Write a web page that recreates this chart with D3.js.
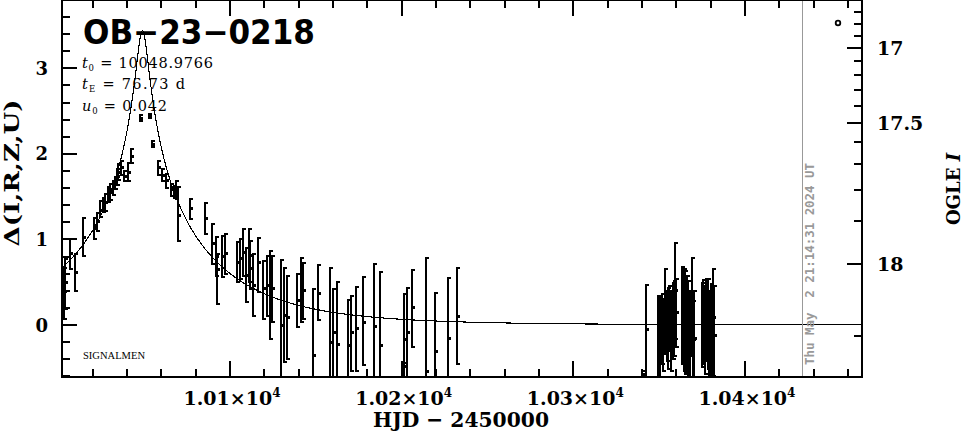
<!DOCTYPE html>
<html><head><meta charset="utf-8">
<script src="https://cdn.jsdelivr.net/npm/d3@7"></script>
<style>body{margin:0;background:#fff}svg{display:block}</style>
</head><body><svg id="c" width="965" height="434"></svg>
<script>
// ---- data ----
const hjd = [
 10003.0,10004.1,10006.8,10009.7,10014.5,10020.7,10022.5,10024.2,10026.0,10027.4,
 10028.9,10030.1,10031.8,10033.0,10033.9,10035.0,10036.2,10038.2,10040.6,10042.3,
 10047.5,10048.5,10052.5,10054.7,10058.2,10060.5,10062.7,10065.6,10067.1,10068.8,
 10069.9,10076.7,10085.4,10089.3,10091.6,10092.6,10095.3,10097.1,10104.1,10105.8,
 10107.8,10109.3,10110.8,10111.9,10113.2,10116.5,10119.4,10121.4,10123.3,10124.7,
 10129.5,10131.4,10133.4,10139.2,10141.2,10142.5,10148.5,10151.4,10158.2,10160.2,
 10162.1,10168.5,10170.5,10173.2,10177.6,10184.0,10187.4,10200.5,10201.5,10202.9,
 10206.2,10214.2,10219.4,10227.2,10232.4,
 10339.8,10342.3,10349.5,10350.8,10351.6,10352.5,10353.4,10354.3,10355.1,10356.0,
 10356.9,10357.8,10358.6,10359.2,10360.1,10363.6,10364.5,10365.3,10366.2,10367.1,
 10368.0,10369.0,10369.7,10370.6,10375.0,10375.8,10376.7,10377.6,10378.5,10379.3,
 10380.2,10381.1,10381.9];
const delta = [
 0.386,0.491,0.830,0.619,1.028,1.122,1.204,1.344,1.402,1.426,
 1.519,1.554,1.601,1.659,1.730,1.788,1.835,1.741,1.788,1.975,
 2.419,3.407,2.442,2.115,1.835,1.753,1.683,1.578,1.554,1.578,
 1.274,1.356,1.250,0.958,0.806,0.643,0.795,0.841,0.736,0.783,
 0.853,0.584,0.818,0.666,0.467,0.725,0.432,0.456,0.351,0.421,
 0.000,0.117,0.093,0.292,0.421,0.409,-0.362,0.374,-0.199,-0.093,
 -0.222,-0.234,-0.093,-0.035,0.035,-0.023,-0.245,-0.479,-0.175,-0.093,
 0.199,-0.549,-0.304,-0.152,0.105,
 -0.573,-0.058,-0.175,-0.117,0.000,-0.082,0.175,0.035,-0.035,0.082,
 -0.058,0.058,0.082,0.409,0.152,0.117,0.082,0.035,0.000,-0.058,
 -0.117,0.234,-0.175,-0.152,0.000,0.035,-0.058,0.058,0.035,-0.082,
 -0.058,0.082,-0.117];
const deltaHi = [
 0.678,0.783,1.017,0.841,1.262,1.262,1.321,1.461,1.496,1.543,
 1.624,1.659,1.695,1.741,1.835,1.893,1.928,1.811,1.905,2.068,
 2.466,3.424,2.477,2.162,1.928,1.835,1.776,1.659,1.636,1.695,
 1.624,1.484,1.437,1.192,1.040,0.841,1.052,1.075,0.982,1.017,
 1.134,0.912,1.134,0.993,0.841,1.028,0.760,0.818,0.876,0.818,
 0.771,0.678,0.584,0.608,0.795,0.736,0.432,0.713,0.678,0.432,
 0.514,0.304,0.351,0.456,0.573,0.725,0.631,-0.432,0.374,0.444,
 0.654,0.795,0.386,0.561,0.678,
 -0.526,0.479,0.351,0.339,0.374,0.316,0.666,0.409,0.444,0.467,
 0.409,0.503,0.526,0.970,0.549,0.690,0.666,0.643,0.584,0.526,
 0.409,0.795,0.292,0.409,0.503,0.538,0.467,0.549,0.549,0.409,
 0.491,0.666,0.467];
const deltaLo = [
 0.058,0.175,0.643,0.386,0.795,0.993,1.087,1.250,1.309,1.321,
 1.426,1.449,1.508,1.578,1.624,1.683,1.741,1.671,1.671,1.881,
 2.372,3.389,2.407,2.068,1.741,1.671,1.589,1.496,1.472,1.461,
 0.970,1.227,1.052,0.701,0.561,0.234,0.549,0.584,0.491,0.526,
 0.561,0.257,0.491,0.409,0.093,0.374,0.058,0.093,-0.175,0.023,
 -0.701,-0.444,-0.409,-0.035,0.023,0.058,-0.818,0.047,-0.818,-0.760,
 -0.876,-0.643,-0.549,-0.549,-0.479,-0.760,-0.876,-0.818,-0.760,-0.643,
 -0.269,-0.993,-0.876,-0.818,-0.467,
 -0.701,-0.701,-0.760,-0.619,-0.467,-0.549,-0.351,-0.432,-0.526,-0.316,
 -0.549,-0.409,-0.374,-0.175,-0.269,-0.467,-0.549,-0.584,-0.584,-0.608,
 -0.643,-0.374,-0.643,-0.701,-0.503,-0.467,-0.584,-0.432,-0.526,-0.608,
 -0.619,-0.608,-0.701];

// fit parameters shown on the chart
const t0 = 10048.9766, tE = 76.73, u0 = 0.042;
// axis ticks / labels
const xDomain = [10002.1, 10468.2];
const yDomain = [-0.6075, 3.798];
const xMajor = [10100, 10200, 10300, 10400];
const xLabels = ["1.01", "1.02", "1.03", "1.04"];
const yMajor = [0, 1, 2, 3];
const magMajor = [17, 17.5, 18];
const magLabels = ["17", "17.5", "18"];
const magMinor = [16.7,16.8,16.9,17.1,17.2,17.3,17.4,17.6,17.7,17.8,17.9,18.1];
const baseMag = 18.089, sourceFrac = 0.0925;
const nowHJD = 10433.38;
const stamp = "Thu May  2 21:14:31 2024 UT";

// ---- drawing ----
const L = 62, R = 862, T = 0, B = 377;
const svg = d3.select("#c");
const x = d3.scaleLinear().domain(xDomain).range([L, R]);
const y = d3.scaleLinear().domain(yDomain).range([B, T]);
const magToDelta = m => 2.5 * Math.log10(1 + (Math.pow(10, 0.4 * (baseMag - m)) - 1) / sourceFrac);

svg.append("defs").append("clipPath").attr("id", "clip")
  .append("rect").attr("x", L).attr("y", T).attr("width", R - L).attr("height", B - T);

const plot = svg.append("g").attr("clip-path", "url(#clip)");

// now line
svg.append("line").attr("x1", Math.round(x(nowHJD)) + 0.5).attr("x2", Math.round(x(nowHJD)) + 0.5)
  .attr("y1", T).attr("y2", B).attr("stroke", "#999").attr("stroke-width", 1)
  .attr("shape-rendering", "crispEdges");

// model curve
const mag = t => { const u = Math.hypot(u0, (t - t0) / tE); return (u*u + 2) / (u * Math.sqrt(u*u + 4)); };
const ts = d3.range(xDomain[0], xDomain[1], 0.25).concat([t0]).sort((a, b) => a - b);
plot.append("path").datum(ts)
  .attr("d", d3.line().x(t => x(t)).y(t => y(2.5 * Math.log10(mag(t)))))
  .attr("fill", "none").attr("stroke", "#000").attr("stroke-width", 1.1)
  .attr("shape-rendering", "crispEdges");

// error bars
const idx = d3.range(hjd.length);
const eb = plot.append("g").attr("stroke", "#000").attr("shape-rendering", "crispEdges");
idx.forEach(i => {
  const px = Math.round(x(hjd[i]));
  const yt = y(deltaHi[i]), yb = y(deltaLo[i]), yc = y(delta[i]);
  eb.append("line").attr("x1", px).attr("x2", px).attr("y1", yt).attr("y2", yb).attr("stroke-width", 2);
  eb.append("line").attr("x1", px - 1).attr("x2", px + 3).attr("y1", yt + 1).attr("y2", yt + 1).attr("stroke-width", 2);
  eb.append("line").attr("x1", px - 1).attr("x2", px + 3).attr("y1", yb - 1).attr("y2", yb - 1).attr("stroke-width", 2);
  eb.append("rect").attr("x", px - 1.5).attr("y", yc - 1.5).attr("width", 4).attr("height", 3).attr("fill", "#000").attr("stroke", "none");
});

// frame
svg.append("rect").attr("x", L).attr("y", T).attr("width", R - L).attr("height", B - T)
  .attr("fill", "none").attr("stroke", "#000").attr("stroke-width", 2).attr("shape-rendering", "crispEdges");

const ticks = svg.append("g").attr("stroke", "#000").attr("stroke-width", 2).attr("shape-rendering", "crispEdges");
// x ticks (bottom and top)
d3.range(10020, xDomain[1], 20).forEach(v => {
  const major = v % 100 === 0, len = major ? 16 : 8, px = x(v);
  ticks.append("line").attr("x1", px).attr("x2", px).attr("y1", B).attr("y2", B - len);
  ticks.append("line").attr("x1", px).attr("x2", px).attr("y1", T).attr("y2", T + len);
});
// left y ticks
d3.range(-6, 39, 2).map(v => v / 10).forEach(v => {
  const major = Math.abs(v - Math.round(v)) < 1e-9, len = major ? 15 : 8, py = y(v);
  ticks.append("line").attr("x1", L).attr("x2", L + len).attr("y1", py).attr("y2", py);
});
// right magnitude ticks
magMajor.forEach(m => { const py = y(magToDelta(m));
  ticks.append("line").attr("x1", R).attr("x2", R - 15).attr("y1", py).attr("y2", py); });
magMinor.forEach(m => { const py = y(magToDelta(m));
  ticks.append("line").attr("x1", R).attr("x2", R - 8).attr("y1", py).attr("y2", py); });

const serif = "'DejaVu Serif', serif";
// left labels
yMajor.forEach(v => svg.append("text").attr("x", 48).attr("y", y(v) + 6.5)
  .attr("text-anchor", "end").attr("font-family", serif).attr("font-weight", "bold")
  .attr("font-size", 18).text(v));
// right labels
magMajor.forEach((m, i) => svg.append("text").attr("x", 877).attr("y", y(magToDelta(m)) + 7)
  .attr("font-family", serif).attr("font-weight", "bold").attr("font-size", 19).text(magLabels[i]));
// bottom labels
xMajor.forEach((v, i) => {
  const t = svg.append("text").attr("x", x(v) + 2).attr("y", 405).attr("text-anchor", "middle")
    .attr("font-family", serif).attr("font-weight", "bold").attr("font-size", 19);
  t.append("tspan").text(xLabels[i] + "\u00d710");
  t.append("tspan").attr("dy", -8).attr("font-size", 12).text("4");
});
svg.append("text").attr("x", 461).attr("y", 427).attr("text-anchor", "middle")
  .attr("font-family", serif).attr("font-weight", "bold").attr("font-size", 21)
  .attr("textLength", 176).attr("lengthAdjust", "spacingAndGlyphs").text("HJD \u2212 2450000");
// y axis titles
svg.append("text").attr("transform", "translate(19,173) rotate(-90)").attr("text-anchor", "middle")
  .attr("font-family", serif).attr("font-weight", "bold").attr("font-size", 20)
  .attr("textLength", 147).attr("lengthAdjust", "spacingAndGlyphs").text("\u0394(I,R,Z,U)");
const og = svg.append("text").attr("transform", "translate(960,189) rotate(-90)").attr("text-anchor", "middle")
  .attr("font-family", serif).attr("font-weight", "bold").attr("font-size", 18);
og.append("tspan").text("OGLE ");
og.append("tspan").attr("font-style", "italic").text("I");

// timestamp
svg.append("text").attr("transform", "translate(813.5,264) rotate(-90)").attr("text-anchor", "middle")
  .attr("font-family", "'DejaVu Sans Mono', monospace").attr("font-weight", "bold").attr("font-size", 11.5)
  .attr("fill", "#999").attr("textLength", 202).attr("lengthAdjust", "spacingAndGlyphs")
  .attr("xml:space", "preserve").style("white-space", "pre").text(stamp);

// legend circle
svg.append("circle").attr("cx", 838).attr("cy", 23).attr("r", 2.3).attr("fill", "none")
  .attr("stroke", "#000").attr("stroke-width", 1.8);

// title & parameters
svg.append("text").attr("x", 83).attr("y", 44).attr("font-family", "'DejaVu Sans', sans-serif")
  .attr("font-weight", "bold").attr("font-size", 34).attr("textLength", 232)
  .attr("lengthAdjust", "spacingAndGlyphs").text("OB\u221223\u22120218");

const params = [["t", "0", " = " + t0.toFixed(4), 131], ["t", "E", " = " + tE.toFixed(2) + " d", 103], ["u", "0", " = " + u0.toFixed(3), 85]];
params.forEach((p, i) => {
  const t = svg.append("text").attr("x", 82).attr("y", 67.5 + i * 21.7)
    .attr("font-family", serif).attr("font-size", 14.5)
    .attr("textLength", p[3]).attr("lengthAdjust", "spacing");
  t.append("tspan").attr("font-style", "italic").text(p[0]);
  t.append("tspan").attr("dy", 3).attr("font-size", 8.5).text(p[1]);
  t.append("tspan").attr("dy", -3).text(p[2]);
});
svg.append("text").attr("x", 83).attr("y", 359).attr("font-family", "'Liberation Serif', serif")
  .attr("font-size", 10.5).attr("textLength", 62).attr("lengthAdjust", "spacingAndGlyphs").text("SIGNALMEN");
</script></body></html>
